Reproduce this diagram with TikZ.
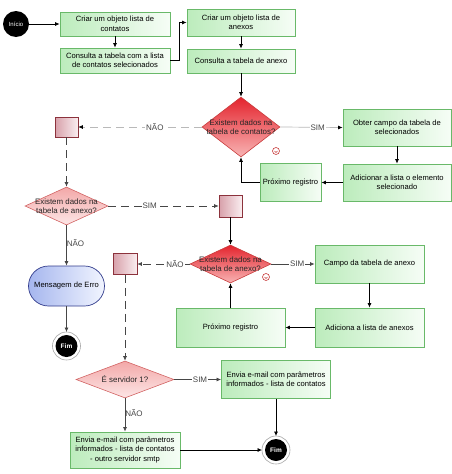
\documentclass[tikz,border=0pt]{standalone}
\usepackage{fontspec}
\setmainfont{Liberation Sans}
\usetikzlibrary{shapes.geometric,shapes.misc,arrows.meta}
\definecolor{gfillA}{RGB}{188,236,188}
\definecolor{gfillB}{RGB}{246,253,246}
\definecolor{gline}{RGB}{105,185,105}
\definecolor{rA}{RGB}{228,35,45}
\definecolor{rB}{RGB}{248,180,180}
\definecolor{rline}{RGB}{200,60,60}
\definecolor{pA}{RGB}{243,168,168}
\definecolor{pB}{RGB}{252,230,230}
\definecolor{pline}{RGB}{210,100,100}
\definecolor{sqA}{RGB}{215,160,170}
\definecolor{sqB}{RGB}{250,238,240}
\definecolor{sqline}{RGB}{140,50,60}
\definecolor{bA}{RGB}{165,182,238}
\definecolor{bB}{RGB}{242,245,255}
\definecolor{bline}{RGB}{50,60,140}
\definecolor{lgray}{RGB}{185,185,185}
\definecolor{dgray}{RGB}{70,70,70}
\tikzset{
  txt/.style={font=\fontsize{7.6}{9.5}\selectfont, align=center},
  box/.style={txt, rectangle, draw=gline, line width=0.8pt, left color=gfillA, right color=gfillB, inner sep=0pt},
  rdia/.style={diamond, draw=rline, line width=0.6pt, top color=rA, bottom color=rB, inner sep=0pt},
  pdia/.style={diamond, draw=pline, line width=0.6pt, top color=pA, bottom color=pB, inner sep=0pt},
  dtext/.style={font=\fontsize{7.9}{9.5}\selectfont, align=center, text=black!85},
  sq/.style={chamfered rectangle, chamfered rectangle corners=north west, chamfered rectangle sep=2pt, draw=sqline, line width=0.6pt, left color=sqA, right color=sqB, inner sep=0pt},
  startnode/.style={circle, fill=black, minimum size=26pt, inner sep=0pt, text=white, font=\fontsize{6}{7}\selectfont},
  fimnode/.style={circle, fill=black, minimum size=22pt, inner sep=0pt, outer sep=3pt, text=white, font=\fontsize{6.5}{7}\selectfont\bfseries},
  msgnode/.style={txt, rounded rectangle, draw=bline, line width=0.7pt, left color=bA, right color=bB, minimum width=76pt, minimum height=40pt, inner sep=0pt},
  icon/.style={circle, draw=rline, fill=white, minimum size=7pt, inner sep=0pt, line width=0.6pt},
  arr/.style={-{Latex[length=4.5pt,width=4pt]}, draw=black, line width=0.7pt},
  darr/.style={arr, draw=dgray, dash pattern=on 8pt off 5pt},
  larr/.style={-{Latex[length=4.5pt,width=4pt,color=black]}, draw=lgray, line width=0.7pt},
  ldarr/.style={larr, dash pattern=on 8pt off 5pt},
  lab/.style={font=\fontsize{8}{9}\selectfont, fill=white, inner sep=1pt, text=dgray}
}
\begin{document}
\begin{tikzpicture}[x=1pt,y=-1pt]
\useasboundingbox (0,0) rectangle (452,474);

% top row
\node[startnode] (ini) at (16,24) {Início};
\node[box, minimum width=110pt, minimum height=24pt] (b1) at (115,24) {Criar um objeto lista de\\contatos};
\node[box, minimum width=110pt, minimum height=25pt] (b2) at (115,60.5) {Consulta a tabela com a lista\\de contatos selecionados};
\node[box, minimum width=108pt, minimum height=27pt] (b3) at (241,22.5) {Criar um objeto lista de\\anexos};
\node[box, minimum width=108pt, minimum height=24pt] (b4) at (241,61) {Consulta a tabela de anexo};

% diamond 1
\node[rdia, minimum width=78pt, minimum height=60pt] (d1) at (241,127) {};
\node[dtext] (d1t) at (d1) {Existem dados na\\tabela de contatos?};
\node[icon] (i1) at (276,151) {};
\node[box, minimum width=108pt, minimum height=37pt] (b5) at (397,127.5) {Obter campo da tabela de\\selecionados};
\node[box, minimum width=108pt, minimum height=37pt] (b6) at (397,182.5) {Adicionar a lista o elemento\\selecionado};
\node[box, minimum width=61pt, minimum height=38pt] (b7) at (290.5,182.5) {Próximo registro};

% left column
\node[sq, minimum width=23pt, minimum height=20pt] (s1) at (66.5,127) {};
\node[pdia, minimum width=83pt, minimum height=38pt] (d2) at (66.5,206) {};
\node[dtext] (d2t) at (d2) {Existem dados na\\tabela de anexo?};
\node[msgnode] (msg) at (66.5,286) {Mensagem de Erro};
\node[fimnode] (f1) at (66.5,346) {Fim};

% diamond 3 block
\node[sq, minimum width=23pt, minimum height=22pt] (s2) at (230.5,206) {};
\node[rdia, minimum width=81pt, minimum height=38pt] (d3) at (230.5,264) {};
\node[dtext] (d3t) at (d3) {Existem dados na\\tabela de anexo?};
\node[icon] (i2) at (266,277) {};
\node[box, minimum width=109pt, minimum height=38pt] (b8) at (369.5,264) {Campo da tabela de anexo};
\node[box, minimum width=109pt, minimum height=39pt] (b9) at (369.5,327.5) {Adiciona a lista de anexos};
\node[box, minimum width=109pt, minimum height=39pt] (b10) at (230.5,327.5) {Próximo registro};

% bottom
\node[sq, minimum width=24pt, minimum height=21pt] (s3) at (125,264) {};
\node[pdia, minimum width=98pt, minimum height=37pt] (d4) at (125,379.5) {};
\node[dtext] (d4t) at (d4) {É servidor 1?};
\node[box, minimum width=109pt, minimum height=38pt] (b11) at (276,379.5) {Envia e-mail com parâmetros\\informados - lista de contatos};
\node[box, minimum width=110pt, minimum height=36pt] (b12) at (125,450) {Envia e-mail com parâmetros\\informados - lista de contatos\\- outro servidor smtp};
\node[fimnode] (f2) at (276,450) {Fim};

\draw[gray!70, line width=0.6pt] (f1) circle (14pt);
\draw[gray!70, line width=0.6pt] (f2) circle (14pt);
\draw[rline, line width=0.4pt] ([xshift=-1.5pt]i1.center) arc[start angle=180, end angle=360, radius=1.5pt];
\draw[rline, line width=0.4pt] ([xshift=-1.5pt]i2.center) arc[start angle=180, end angle=360, radius=1.5pt];

% connectors
\draw[arr] (ini) -- (b1);
\draw[arr] (b1) -- (b2);
\draw[arr] (b2.east) -- ++(9,0) |- (b3.west);
\draw[arr] (b3) -- (b4);
\draw[arr] (b4) -- (d1);
\draw[larr] (d1.east) -- node[lab, pos=0.6] {SIM} (b5.west);
\draw[arr] (b5) -- (b6);
\draw[arr] (b6) -- (b7);
\draw[arr] (b7.west) -| (d1.south);
\draw[ldarr] (d1.west) -- node[lab, pos=0.38] {NÃO} (s1.east);
\draw[darr] (s1) -- (d2);
\draw[darr] (d2.east) -- node[lab, pos=0.375] {SIM} (s2.west);
\draw[arr, draw=dgray] (d2.south) -- node[lab, fill=none, right, pos=0.45, xshift=-1pt] {NÃO} (msg.north);
\draw[arr, draw=dgray] (msg) -- (f1);
\draw[arr] (s2) -- (d3);
\draw[arr, draw=dgray] (d3.east) -- node[lab, pos=0.6] {SIM} (b8.west);
\draw[arr] (b8) -- (b9);
\draw[arr] (b9) -- (b10);
\draw[arr] (b10) -- (d3.south);
\draw[darr] (d3.west) -- node[lab, pos=0.28] {NÃO} (s3.east);
\draw[darr] (s3) -- (d4);
\draw[arr, draw=dgray] (d4.east) -- node[lab, pos=0.55] {SIM} (b11.west);
\draw[arr, draw=dgray] (d4.south) -- node[lab, fill=none, right, pos=0.45, xshift=-1pt] {NÃO} (b12.north);
\draw[arr] (b11) -- (f2);
\draw[arr] (b12.east) -- (f2.west);
\end{tikzpicture}
\end{document}
